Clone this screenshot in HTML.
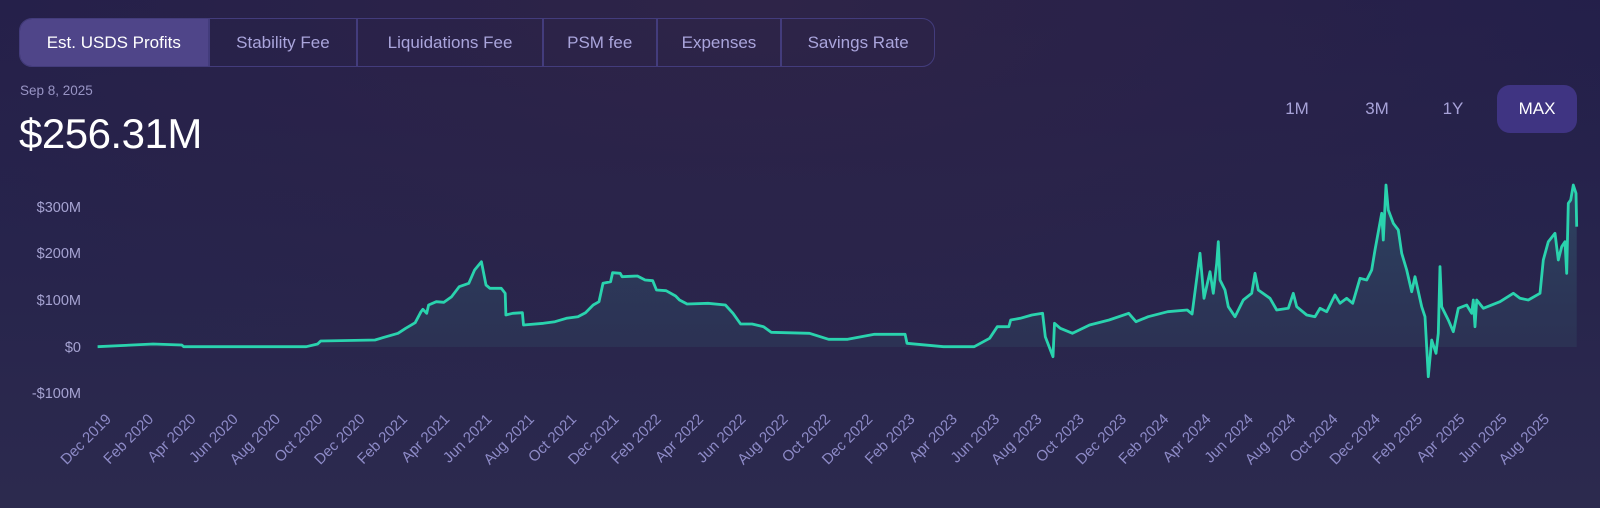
<!DOCTYPE html>
<html><head><meta charset="utf-8">
<style>
html,body{margin:0;padding:0;}
body{width:1600px;height:508px;overflow:hidden;font-family:"Liberation Sans",sans-serif;
background:radial-gradient(ellipse 900px 420px at 750px 0px,#2e2448 0%,rgba(46,36,72,0) 100%),linear-gradient(180deg,#231f4a 0%,#27244c 50%,#2c2a4e 100%);position:relative;}
.tabs{position:absolute;left:19px;top:18px;width:916px;height:49px;border:1px solid #433c7c;border-radius:13px;box-sizing:border-box;overflow:hidden;display:flex;}
.tab{height:100%;display:flex;align-items:center;justify-content:center;color:#aaa5dc;font-size:17px;border-right:2px solid #433c7c;box-sizing:border-box;}
.tab.act{background:#4f4589;color:#fff;}
.date{position:absolute;left:20px;top:83px;font-size:13.5px;color:#9894c4;}
.big{position:absolute;left:19px;top:110px;font-size:42px;color:#fff;letter-spacing:-0.5px;}
.tb{position:absolute;top:85px;height:48px;display:flex;align-items:center;justify-content:center;font-size:17px;color:#a7a2d8;}
.max{background:#3f3482;color:#fff;border-radius:13px;}
svg{position:absolute;left:0;top:0;}
</style></head><body>
<div class="tabs">
<div class="tab act" style="width:190px">Est. USDS Profits</div>
<div class="tab" style="width:149px">Stability Fee</div>
<div class="tab" style="width:186px">Liquidations Fee</div>
<div class="tab" style="width:114px">PSM fee</div>
<div class="tab" style="width:125px">Expenses</div>
<div class="tab" style="width:152px;border-right:none">Savings Rate</div>
</div>
<div class="date">Sep 8, 2025</div>
<div class="big">$256.31M</div>
<div class="tb" style="left:1277px;width:40px">1M</div>
<div class="tb" style="left:1357px;width:40px">3M</div>
<div class="tb" style="left:1433px;width:40px">1Y</div>
<div class="tb max" style="left:1497px;width:80px">MAX</div>
<svg width="1600" height="508" xmlns="http://www.w3.org/2000/svg">
<defs><linearGradient id="g" x1="0" y1="0" x2="0" y2="1">
<stop offset="0" stop-color="#2f4a66" stop-opacity="0.85"/>
<stop offset="1" stop-color="#2d3656" stop-opacity="0.55"/></linearGradient></defs>
<g font-family="Liberation Sans, sans-serif" font-size="14.5" fill="#a6a3d2" text-anchor="end">
<text x="81" y="212">$300M</text><text x="81" y="258">$200M</text><text x="81" y="305">$100M</text><text x="81" y="352">$0</text><text x="81" y="398">-$100M</text>
</g>
<path id="area" fill="url(#g)" d=""/>
<path id="line" fill="none" stroke="#2ad3ae" stroke-width="2.8" stroke-linejoin="round" d=""/>
<g id="xl" font-family="Liberation Sans, sans-serif" font-size="15" fill="#8e8bc8" text-anchor="end"></g>
</svg>
<script>
var z3=[[255,530],[400,522],[475,525],[480,530],[800,530],[830,522],[838,513],[980,510],[1000,503],[1040,490],[1060,475],[1085,458],[1100,425],[1105,418],[1115,430],[1120,405],[1140,395],[1160,397],[1180,380],[1200,350],[1225,340],[1240,300],[1258,275],[1270,345],[1280,355],[1310,355],[1320,370],[1322,435],[1340,430],[1365,428],[1368,465],[1420,460],[1450,455],[1480,445],[1510,440],[1530,428],[1550,405]];
var z4=[[0,395],[10,340],[30,335],[35,308],[55,310],[60,320],[100,318],[120,330],[140,332],[150,360],[175,362],[200,378],[210,390],[230,402],[285,400],[330,405],[350,430],[370,462],[400,462],[430,470],[450,487],[550,490],[600,508],[650,508],[720,493],[800,493],[805,520],[900,530],[980,530],[1020,505],[1040,470],[1070,470],[1075,450],[1100,445],[1130,435],[1158,430],[1165,500],[1185,560],[1188,460],[1200,475],[1225,490],[1260,465],[1300,450],[1340,430],[1355,455],[1380,440],[1420,425],[1460,420],[1470,432]];
var z5=[[0,580],[12,715],[30,635],[40,700],[50,610],[55,545],[60,660],[75,690],[85,740],[105,770],[130,720],[155,700],[165,640],[175,690],[210,715],[230,750],[265,745],[280,700],[290,740],[320,765],[345,770],[360,745],[380,755],[405,705],[420,730],[440,715],[458,730],[480,655],[500,660],[515,630],[525,570],[545,460],[550,540],[558,375],[565,450],[580,490],[595,510],[605,580],[620,630],[635,695],[645,650],[665,740],[675,770],[685,950],[695,840],[708,880],[715,820],[720,620],[725,740],[745,780],[760,815],[775,745],[800,735],[815,760],[820,720],[825,800],[830,720],[850,745],[900,725],[940,700],[960,715],[985,720],[1020,700],[1030,600],[1045,545],[1065,520],[1075,600],[1085,560],[1095,545],[1100,640],[1105,430],[1112,420],[1120,375],[1128,400],[1130,500]];
var anc=[[0,599],[10,603],[350,733],[805,907],[1185,1053],[1480,1197]];
function m4(px){for(var i=0;i<anc.length-1;i++){var a=anc[i],b=anc[i+1];if(px<=b[0]||i==anc.length-2){return a[1]+(px-a[0])*(b[1]-a[1])/(b[0]-a[0]);}}}
var pts=[];
z3.forEach(function(p){pts.push([p[0]/2.613,170+p[1]/3]);});
z4.forEach(function(p){pts.push([m4(p[0]),170+p[1]/3]);});
z5.forEach(function(p){pts.push([1200+p[0]/3,60+p[1]/3]);});
var d=pts.map(function(p,i){return (i?'L':'M')+p[0].toFixed(1)+' '+p[1].toFixed(1);}).join(' ');
document.getElementById('line').setAttribute('d',d);
var last=pts[pts.length-1];
document.getElementById('area').setAttribute('d',d+' L'+last[0].toFixed(1)+' 347 L'+pts[0][0].toFixed(1)+' 347 Z');
var m=['Dec','Feb','Apr','Jun','Aug','Oct'];var g=document.getElementById('xl');var s='';
for(var i=0;i<35;i++){var mo=m[i%6];var yr=2019+Math.floor((i+5)/6);var x=112+i*42.3,y=420;
s+='<text x="'+x.toFixed(1)+'" y="'+y+'" transform="rotate(-45 '+x.toFixed(1)+' '+y+')">'+mo+' '+yr+'</text>';}
g.innerHTML=s;
</script>
</body></html>
